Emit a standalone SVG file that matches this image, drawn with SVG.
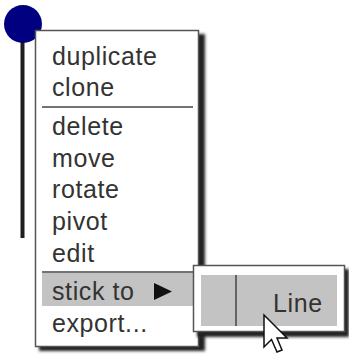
<svg xmlns="http://www.w3.org/2000/svg" width="349" height="354" viewBox="0 0 349 354">
  <defs>
    <filter id="drop" x="-10%" y="-10%" width="130%" height="130%">
      <feGaussianBlur stdDeviation="1.6"/>
    </filter>
    <style>
      .item { font-family: "Liberation Sans", Arial, sans-serif; font-size: 25px; fill: #333; letter-spacing: 0.6px; }
      .panel { fill: #fff; stroke: #555; stroke-width: 1.5; }
      .shadow { fill: #222; filter: url(#drop); }
      .sep { stroke: #444; stroke-width: 1.5; }
      .hl { fill: #c3c3c3; }
    </style>
  </defs>
  <rect width="349" height="354" fill="#fff"/>

  <!-- stick figure handle -->
  <g id="handle">
    <line x1="22.5" y1="24" x2="22.5" y2="238" stroke="#1e1e1e" stroke-width="4"/>
    <circle cx="23" cy="24" r="19" fill="#000080"/>
  </g>

  <!-- main context menu -->
  <g id="menu">
    <rect class="shadow" x="39" y="34" width="166" height="317"/>
    <rect class="panel" x="35.5" y="30.5" width="163" height="316"/>
    <text class="item" x="52" y="65">duplicate</text>
    <text class="item" x="52" y="96">clone</text>
    <line class="sep" x1="42" y1="107" x2="193" y2="107"/>
    <text class="item" x="52" y="135">delete</text>
    <text class="item" x="52" y="167">move</text>
    <text class="item" x="52" y="198">rotate</text>
    <text class="item" x="52" y="230">pivot</text>
    <text class="item" x="52" y="262">edit</text>
    <line class="sep" x1="42" y1="272" x2="193" y2="272"/>
    <rect class="hl" x="42" y="273" width="152" height="33"/>
    <text class="item" x="52" y="300">stick to</text>
    <polygon points="154,283 172,291.5 154,300" fill="#111"/>
    <text class="item" x="52" y="332">export...</text>
  </g>

  <!-- submenu -->
  <g id="submenu">
    <rect class="shadow" x="197" y="269" width="152" height="68"/>
    <rect class="panel" x="193.5" y="265.5" width="151" height="66"/>
    <rect class="hl" x="201" y="275" width="136" height="51"/>
    <line x1="236" y1="275" x2="236" y2="326" stroke="#444" stroke-width="1.5"/>
    <text class="item" x="273" y="312" font-size="24">Line</text>
  </g>

  <!-- pointer -->
  <g id="cursor">
    <polygon points="264,315 264,347 271.5,339.5 277,352 282,350 277,338 287,338" fill="#fff" stroke="#111" stroke-width="1.5" stroke-linejoin="miter"/>
  </g>
</svg>
